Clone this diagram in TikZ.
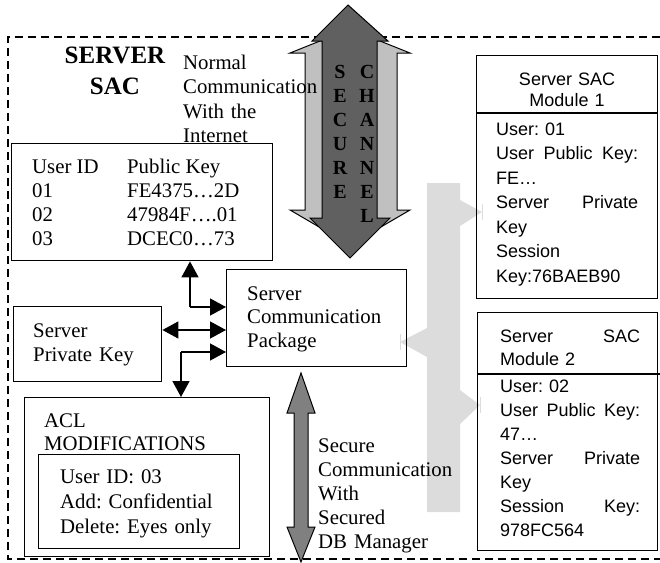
\documentclass[tikz,border=0pt]{standalone}
\usepackage{fontspec}
\setmainfont{Liberation Serif}
\newfontfamily\arialfont{Liberation Sans}
\usetikzlibrary{arrows.meta, positioning, calc}
\definecolor{ChanDark}{HTML}{606060}
\definecolor{ChanLight}{HTML}{C0C0C0}
\definecolor{BandGray}{HTML}{DCDCDC}
\definecolor{DbGray}{HTML}{808080}
\newcommand{\serifsize}[1]{\frenchspacing\fontsize{20.8}{#1}\selectfont}
\newcommand{\sanssize}[1]{\frenchspacing\arialfont\fontsize{18}{#1}\selectfont}

\tikzset{
  sacbox/.style={draw=black, line width=1.4pt, anchor=north west, inner sep=0pt},
  txt/.style={anchor=base west, inner sep=0pt, align=left, text width=#1},
  txt/.default=200pt,
  ptr/.style={line width=1.4pt, -{Triangle[length=16pt, width=17pt]}},
  dptr/.style={line width=1.4pt, {Triangle[length=16pt, width=17pt]}-{Triangle[length=16pt, width=17pt]}},
}

\begin{document}
\begin{tikzpicture}[x=1pt, y=-1pt]
\useasboundingbox (0,0) rectangle (660,562);

% frame of the server
\draw[line width=1.2pt, dash pattern=on 8pt off 5pt] (660,37) -- (8,37) -- (8,559) -- (660,559);

% light band towards the modules
\fill[BandGray] (427,183) -- (460,183) -- (460,200) -- (482,212) -- (460,226) -- (460,390)
  -- (480,405) -- (460,424) -- (460,512) -- (427,512) -- (427,357) -- (400,342) -- (427,328) -- cycle;
\draw[BandGray, line width=1pt] (482,204) -- (482,220) (400,334) -- (400,350) (480,397) -- (480,413);

% secure channel
\draw[fill=ChanLight, line width=1pt] (350,29) -- (410,53) -- (397,53) -- (397,210) -- (410,210)
  -- (350,245) -- (290,210) -- (305,210) -- (305,53) -- (290,53) -- cycle;
\draw[fill=ChanDark, line width=1pt] (348,5) -- (388,41) -- (377,41) -- (377,218) -- (390,218)
  -- (350,258) -- (310,218) -- (322,218) -- (322,41) -- (312,41) -- cycle;
\node[anchor=base, inner sep=0pt, align=center, text width=20pt, font={\bfseries\fontsize{20}{24}\selectfont}]
  (secure) at (340,78) {S\\E\\C\\U\\R\\E};
\node[anchor=base, inner sep=0pt, align=center, text width=20pt, font={\bfseries\fontsize{20}{24}\selectfont}]
  (channel) at (367,78) {C\\H\\A\\N\\N\\E\\L};

% db manager channel
\draw[fill=DbGray, line width=1pt] (301,373) -- (315,413) -- (308,413) -- (308,527) -- (315,527)
  -- (301,562) -- (287,527) -- (294,527) -- (294,413) -- (287,413) -- cycle;

% titles
\node[anchor=base, inner sep=0pt, align=center, text width=130pt, font={\bfseries\fontsize{25}{31}\selectfont}]
  (title) at (115,63) {SERVER\\SAC};
\node[txt=150pt, font=\serifsize{24.5}] (normal) at (183,69) {Normal\\Communication\\With the\\Internet};

% table of public keys
\node[sacbox, fill=white, minimum width=261pt, minimum height=117pt] (keys) at (11,143) {};
\node[anchor=base west, inner sep=0pt, font=\serifsize{24.3}] (keytab) at (32,173)
  {\begin{tabular}[t]{@{}p{95pt}@{}l@{}}
   User ID & Public Key\\
   01 & FE4375\ldots2D\\
   02 & 47984F\ldots.01\\
   03 & DCEC0\ldots73
   \end{tabular}};

% boxes on the left
\node[sacbox, minimum width=180pt, minimum height=97pt] (comm) at (226,269) {};
\node[txt, font=\serifsize{23.5}] (commtxt) at (247,300) {Server\\Communication\\Package};
\node[sacbox, minimum width=148pt, minimum height=75pt] (privkey) at (13,306) {};
\node[txt, font=\serifsize{24}] (privtxt) at (33,337) {Server\\Private Key};
\node[sacbox, minimum width=245pt, minimum height=159pt] (acl) at (24,397) {};
\node[txt, font=\serifsize{23}] (acltxt) at (44,427) {ACL\\MODIFICATIONS};
\node[sacbox, minimum width=201pt, minimum height=94pt] (aclmod) at (38,454) {};
\node[txt, font=\serifsize{25}] (aclmodtxt) at (60,483) {User ID: 03\\Add: Confidential\\Delete: Eyes only};
\node[txt, font=\serifsize{24}] (dbtxt) at (318,452) {Secure\\Communication\\With\\Secured\\DB Manager};

% modules
\node[sacbox, minimum width=181pt, minimum height=243pt] (mod1) at (476,55) {};
\draw[line width=2.2pt] (476,113) -- (657,113);
\node[anchor=base, inner sep=0pt, align=center, text width=170pt, font=\sanssize{21}] (mod1head) at (567,85) {Server SAC\\Module 1};
\node[txt=142pt, font=\sanssize{24.5}] (mod1txt) at (496,135)
  {User: 01\\User\hfill Public\hfill Key:\\FE\ldots\\Server\hfill Private\\Key\\Session\\Key:76BAEB90};
\node[sacbox, minimum width=180pt, minimum height=238pt] (mod2) at (477,312) {};
\draw[line width=2.2pt] (477,374) -- (660,374);
\node[txt=140pt, font=\sanssize{23}] (mod2head) at (500,342) {Server\hfill SAC\\Module 2};
\node[txt=140pt, font=\sanssize{24}] (mod2txt) at (500,392)
  {User: 02\\User\hfill Public\hfill Key:\\47\ldots\\Server\hfill Private\\Key\\Session\hfill Key:\\978FC564};

% links around the communication package
\coordinate (jup) at (190,307);
\coordinate (jdown) at (181,352);
\coordinate (jmid) at (190,330);
\draw[ptr] (jup) -- (jup |- keys.south);
\draw[ptr] (jup) -- (jup -| comm.west);
\draw[dptr] (privkey.east |- jmid) -- (jmid -| comm.west);
\draw[ptr] (jdown) -- (jdown -| comm.west);
\draw[ptr] (jdown) -- (jdown |- acl.north);
\end{tikzpicture}
\end{document}
